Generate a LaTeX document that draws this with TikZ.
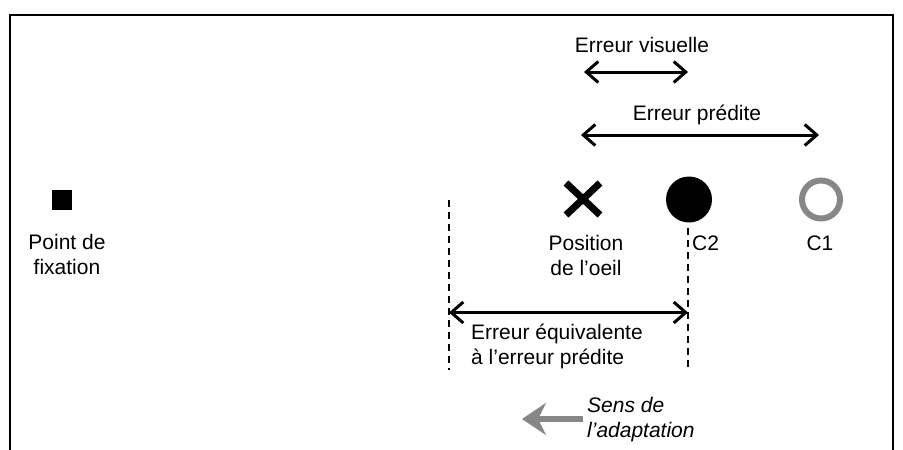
\documentclass[tikz,border=0pt]{standalone}
\usepackage{fontspec}
\setmainfont{Liberation Sans}
\usetikzlibrary{arrows.meta,calc}
\begin{document}
\begin{tikzpicture}[x=1pt,y=-1pt,
  lbl/.style={inner sep=0pt,font=\fontsize{21}{25}\selectfont},
  dbl/.style={line width=3pt,{Straight Barb[length=12pt,width=21pt,line width=3pt]}-{Straight Barb[length=12pt,width=21pt,line width=3pt]}},
  guide/.style={line width=1.4pt,dash pattern=on 7pt off 5pt},
  frame/.style={line width=2.5pt}]
\useasboundingbox (0,0) rectangle (903,450);
\clip (0,0) rectangle (903,450);
\fill[white] (0,0) rectangle (903,450);
\draw[frame] (10,460) -- (10,15) -- (893,15) -- (893,460);

% fixation point
\node[fill=black,minimum size=20pt,inner sep=0pt] (fix) at (62,200) {};
\node[lbl,align=center] (fixlbl) at (67,254) {Point de\\fixation};

% eye position cross
\coordinate (eye) at (583,199);
\draw[line width=7pt] ($(eye)+(-17,-16)$) -- ($(eye)+(17,16)$);
\draw[line width=7pt] ($(eye)+(-17,16)$) -- ($(eye)+(17,-16)$);
\node[lbl,align=center] (eyelbl) at (586,255) {Position\\de l’oeil};

% C2 and C1
\node[circle,fill=black,minimum size=46pt,inner sep=0pt] (c2) at (689,199.5) {};
\node[lbl,anchor=west] (c2lbl) at (692,243) {C2};
\node[circle,draw=black!47,line width=6pt,minimum size=38pt,inner sep=0pt] (c1) at (821,199.5) {};
\node[lbl] (c1lbl) at (820,243) {C1};

% top arrows
\node[lbl] (evlbl) at (642,45) {Erreur visuelle};
\coordinate (ev1) at (584,72);
\coordinate (ev2) at (688,72);
\draw[dbl] (ev1) -- (ev2);
\node[lbl] (eplbl) at (697,115) {Erreur prédite};
\coordinate (ep1) at (581,135);
\coordinate (ep2) at (819,135);
\draw[dbl] (ep1) -- (ep2);

% guide lines
\coordinate (g1a) at (449,200);
\coordinate (g1b) at (449,370);
\coordinate (g2a) at (688,228);
\coordinate (g2b) at (688,370);
\draw[guide] (g1a) -- (g1b);
\draw[guide] (g2a) -- (g2b);

% equivalent error arrow
\coordinate (eq1) at (449,312.5);
\coordinate (eq2) at (688,312.5);
\draw[dbl] (eq1) -- (eq2);
\node[lbl,align=left,anchor=west] (eqlbl) at (471,346) {Erreur équivalente\\à l’erreur prédite};

% adaptation direction
\coordinate (ad1) at (583,419);
\coordinate (ad2) at (522,419);
\draw[line width=6pt,draw=black!47,-{Stealth[length=24pt,width=32pt,inset=8pt,fill=black!47]}] (ad1) -- (ad2);
\node[lbl,align=left,anchor=west,font=\fontsize{21}{25}\selectfont\itshape] (adlbl) at (587,420) {Sens de\\l’adaptation};
\end{tikzpicture}
\end{document}
